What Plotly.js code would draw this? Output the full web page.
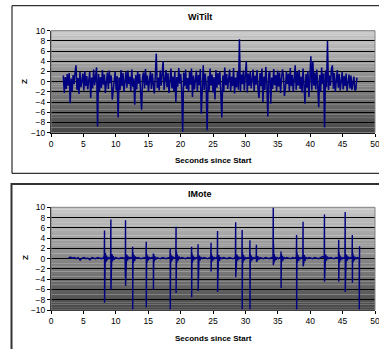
<!DOCTYPE html>
<html><head><meta charset="utf-8">
<script src="https://cdn.plot.ly/plotly-3.0.1.min.js"></script>
<style>html,body{margin:0;padding:0;background:#fff;}#chart{width:379px;height:349px;}</style>
</head><body><div id="chart"></div>
<script>
// WiTilt: Z samples, uniformly sampled
const witiltStart = 1.9;   // seconds
const witiltStep = 0.151;  // seconds per sample
const witiltZ = [
 1.2,-2.2,0.9,-1.4,1.5,-0.8,1.7,-4.2,0.6,-1.9,1.3,-0.5,1.8,3.2,-1.6,0.7,-2.4,1.9,-1.1,0.4,
 1.6,-1.7,2.1,-0.9,1.1,-1.5,0.3,1.9,-3.2,0.8,-1.3,2.4,-0.7,1.2,2.8,-8.8,1.5,-1.8,0.9,-1.2,
 2.3,-0.6,1.4,-2.2,0.7,1.8,-1.4,2.2,-0.3,1.2,-3.5,-1.1,0.5,2.0,-1.7,1.1,-7.0,0.8,-1.6,2.3,
 -0.9,1.7,-2.0,0.4,1.9,-1.2,2.2,-0.5,1.0,-1.8,2.4,-1.0,0.6,-4.5,1.3,-1.5,2.1,-0.4,1.5,-2.1,
 -5.5,0.9,1.8,-1.3,2.5,-0.7,1.2,-1.9,0.3,2.0,-1.4,1.6,-0.6,-2.3,1.1,5.5,-1.2,0.8,-1.7,2.2,
 -0.8,1.4,4.0,-1.6,0.5,2.3,-1.1,1.7,-2.2,0.6,2.6,-1.3,1.0,-1.8,2.1,-4.0,0.9,-1.0,2.7,-0.4,
 1.5,-1.7,-9.8,1.8,-0.9,2.4,-1.4,0.7,-2.0,1.9,-0.6,2.6,-3.0,1.2,-1.5,0.4,2.2,-1.9,1.3,-0.7,
 2.5,-6.3,0.8,3.2,-1.6,1.6,-0.5,-9.5,1.1,-1.8,2.6,-0.8,1.4,-2.1,0.9,-3.5,2.3,-1.2,1.7,-0.6,
 2.0,-1.5,-7.0,1.2,-2.0,2.8,-0.7,1.5,-1.4,0.6,2.4,-1.9,1.0,-0.9,2.7,-2.3,0.8,-1.1,1.9,-1.6,
 8.3,-2.0,1.4,-0.5,2.2,-1.7,0.9,4.0,-2.1,1.6,-0.8,2.0,-1.3,0.5,2.4,-1.8,1.2,-0.6,2.3,-1.5,
 -3.2,1.7,-0.9,2.6,-4.0,1.0,-1.6,2.9,-0.4,-6.8,1.5,2.1,-4.3,0.8,-1.4,2.5,-0.7,1.3,-1.9,2.2,
 -1.0,1.8,-2.2,0.6,2.4,1.1,-2.8,-1.3,2.0,-0.5,1.6,-1.8,2.7,-0.9,1.3,-2.0,0.7,3.2,-1.6,1.9,
 -0.8,2.3,-1.4,1.0,-2.1,2.6,-0.6,-4.3,1.5,-1.2,2.1,-3.0,0.9,5.0,-1.7,4.0,-0.8,1.8,-1.5,2.4,
 -0.7,-5.0,1.3,-1.9,2.8,-0.5,1.6,-9.0,2.2,-1.1,8.0,-1.6,1.2,-0.8,2.5,3.2,-1.4,1.7,-2.0,0.9,
 2.3,-1.2,1.5,-1.7,0.6,1.9,-1.5,1.1,-0.9,1.6,-1.8,0.7,1.4,-1.3,1.2,-1.6,0.5,1.0,-1.7,-1.5,0.8
];

// IMote: time / Z points
const imoteX = [
 2.7,3.0,3.3,3.6,3.9,4.2,4.5,4.8,5.1,5.4,5.7,6.0,6.3,6.6,6.9,7.2,7.5,7.8,8.1,
 8.22,8.26,8.27,8.31,8.35,8.4,8.47,8.55,8.65,8.8,8.95,9.1,
 9.2,9.24,9.25,9.3,9.35,9.42,9.5,9.6,9.75,9.95,10.2,10.5,10.8,11.1,11.4,
 11.44,11.47,11.5,11.51,11.56,11.62,11.7,11.8,11.95,12.1,12.3,12.5,
 12.56,12.6,12.61,12.66,12.72,12.8,12.9,13.05,13.25,13.5,13.8,14.1,14.4,14.6,
 14.66,14.7,14.71,14.76,14.82,14.9,15.0,15.15,15.3,15.5,15.7,
 15.76,15.8,15.81,15.86,15.92,16.0,16.15,16.35,16.6,16.9,17.2,17.5,17.8,18.1,18.3,
 18.36,18.4,18.41,18.46,18.52,18.6,18.7,18.85,19.0,19.2,
 19.26,19.3,19.31,19.36,19.42,19.5,19.6,19.75,19.95,20.2,20.5,20.8,21.1,21.4,21.6,
 21.66,21.7,21.71,21.76,21.82,21.9,22.0,22.15,22.3,22.5,22.6,
 22.66,22.7,22.71,22.76,22.82,22.9,23.0,23.15,23.35,23.6,23.9,24.2,24.5,24.6,
 24.66,24.7,24.71,24.76,24.82,24.9,25.0,25.15,25.3,25.5,25.6,
 25.66,25.7,25.71,25.76,25.82,25.9,26.0,26.15,26.35,26.6,26.9,27.2,27.5,27.8,28.1,28.4,
 28.46,28.5,28.51,28.56,28.62,28.7,28.8,28.95,29.1,29.3,29.4,
 29.46,29.5,29.51,29.56,29.62,29.7,29.8,29.95,30.1,30.3,30.5,30.6,
 30.66,30.7,30.71,30.76,30.82,30.9,31.0,31.15,31.3,31.5,31.6,
 31.66,31.7,31.71,31.76,31.82,31.9,32.05,32.25,32.5,32.8,33.1,33.4,33.7,34.0,34.2,
 34.26,34.3,34.31,34.34,34.38,34.44,34.52,34.62,34.75,34.9,35.1,35.3,35.4,
 35.46,35.5,35.51,35.56,35.62,35.7,35.8,35.95,36.15,36.4,36.7,37.0,37.3,37.6,37.8,
 37.86,37.9,37.91,37.96,38.02,38.1,38.2,38.35,38.5,38.7,38.8,
 38.86,38.9,38.91,38.96,39.02,39.1,39.2,39.35,39.55,39.8,40.1,40.4,40.7,41.0,41.3,41.6,41.9,42.1,
 42.16,42.2,42.21,42.26,42.32,42.4,42.5,42.65,42.85,43.1,43.4,43.7,44.0,44.3,
 44.36,44.4,44.41,44.46,44.52,44.6,44.7,44.85,45.0,45.2,45.3,
 45.36,45.4,45.41,45.46,45.52,45.6,45.7,45.85,46.0,46.2,46.4,
 46.46,46.5,46.51,46.56,46.62,46.7,46.8,46.95,47.1,47.3,47.5,
 47.56,47.58,47.62
];
const imoteZ = [
 0.1,0.3,0.1,0.2,0.0,0.2,-0.3,0.1,0.2,0.0,0.1,-0.2,0.2,0.1,0.0,0.2,0.1,0.0,0.2,
 0.5,5.5,-8.6,2.8,-1.3,1.1,-0.7,0.6,-0.3,0.3,0.0,0.2,
 0.4,7.6,-6.0,1.5,-1.0,0.9,-0.5,0.5,-0.2,0.2,0.1,0.0,0.2,0.1,0.1,
 0.2,-3.5,7.5,-5.3,1.8,-0.9,0.8,-0.4,0.4,0.0,0.2,0.1,
 0.3,2.3,-10,1.2,-0.8,0.7,-0.4,0.3,0.1,0.2,0.0,0.1,0.2,0.1,
 0.3,3.3,-9.5,1.0,-0.8,0.6,-0.3,0.3,0.0,0.2,0.1,
 0.3,1.0,-6.0,0.9,-0.6,0.5,-0.2,0.2,0.1,0.0,0.2,0.1,0.0,0.2,0.1,
 0.2,2.0,-10,1.0,-0.7,0.6,-0.3,0.3,0.1,0.2,
 0.4,6.2,-6.7,1.4,-0.9,0.8,-0.4,0.4,0.0,0.2,0.1,0.0,0.2,0.1,0.2,
 0.3,2.3,-7.5,1.1,-0.8,0.6,-0.3,0.3,0.0,0.2,0.1,
 0.3,2.8,-6.3,1.2,-0.7,0.6,-0.3,0.3,0.0,0.2,0.1,0.0,0.2,0.1,
 0.3,3.1,-2.5,1.0,-0.6,0.5,-0.3,0.3,0.0,0.2,0.1,
 0.3,5.4,-6.5,1.3,-0.8,0.7,-0.4,0.3,0.0,0.2,0.1,0.0,0.2,0.1,0.0,0.2,
 0.4,7.1,-3.6,1.5,-0.9,0.8,-0.4,0.4,0.0,0.2,0.1,
 0.3,5.6,-10,1.2,-0.8,0.7,-0.3,0.3,0.0,0.2,0.1,0.2,
 0.3,3.6,-10,1.0,-0.7,0.6,-0.3,0.3,0.0,0.2,0.1,
 0.2,2.7,-0.6,0.9,-0.4,0.5,-0.2,0.2,0.1,0.0,0.2,0.1,0.0,0.2,0.1,
 0.4,10,-1.3,3.0,-1.0,0.9,-0.5,0.4,-0.2,0.2,0.0,0.2,0.1,
 0.3,1.4,-5.7,0.9,-0.6,0.5,-0.3,0.3,0.0,0.2,0.1,0.0,0.2,0.1,0.2,
 0.4,4.6,-10,1.3,-0.8,0.7,-0.4,0.3,0.0,0.2,0.1,
 0.4,7.2,-1.5,1.4,-0.8,0.7,-0.4,0.3,0.0,0.2,0.1,0.0,0.2,0.1,0.0,0.2,0.4,0.2,
 0.5,8.6,-4.5,2.8,-0.9,0.8,-0.4,0.4,0.0,0.2,0.1,0.0,0.2,0.1,
 0.3,3.7,-4.5,1.2,-0.8,0.6,-0.3,0.3,0.0,0.2,0.1,
 0.4,9.1,-6.5,2.0,-0.9,0.8,-0.4,0.4,0.0,0.2,0.1,
 0.3,4.6,-4.7,1.2,-0.7,0.6,-0.3,0.3,0.0,0.2,0.1,
 0.2,-10,2.4
];

const chartTitles = ['WiTilt', 'IMote'];
const xTitle = 'Seconds since Start';
const yTitle = 'Z';

const W = 379, H = 349;
const witiltX = witiltZ.map((_, i) => +(witiltStart + i * witiltStep).toFixed(3));

const FONT = 'Liberation Sans, Arial, sans-serif';
const lineColor = '#000080';

const traces = [
  {x: witiltX, y: witiltZ, type: 'scatter', mode: 'lines', line: {color: lineColor, width: 1.5}, xaxis: 'x', yaxis: 'y', hoverinfo: 'skip'},
  {x: imoteX, y: imoteZ, type: 'scatter', mode: 'lines', line: {color: lineColor, width: 1.4}, xaxis: 'x2', yaxis: 'y2', hoverinfo: 'skip'}
];

const xDom = [51 / W, 375 / W];
const yDom1 = [1 - 132.7 / H, 1 - 30.7 / H];
const yDom2 = [1 - 310 / H, 1 - 207.3 / H];

function xax(anchor) {
  return {domain: xDom, anchor: anchor, range: [0, 50], dtick: 5, tick0: 0,
    showgrid: false, zeroline: false, showline: true, linecolor: '#000', linewidth: 1,
    ticks: 'outside', ticklen: 3, tickcolor: '#000', tickwidth: 1, ticklabeloverflow: 'allow',
    tickfont: {family: FONT, size: 8.5, color: '#000'}, fixedrange: true};
}
function yax(anchor, dom) {
  return {domain: dom, anchor: anchor, range: [-10, 10], dtick: 2, tick0: 0,
    showgrid: true, gridcolor: '#000', gridwidth: 1, zeroline: false,
    showline: true, linecolor: '#000', linewidth: 1,
    ticks: 'outside', ticklen: 3, tickcolor: '#000', tickwidth: 1,
    tickfont: {family: FONT, size: 8.5, color: '#000'}, fixedrange: true};
}

// gradient background strips
const shapes = [];
const N = 40;
[['x', 'y'], ['x2', 'y2']].forEach(([xa, ya]) => {
  for (let i = 0; i < N; i++) {
    const f = i / (N - 1);
    const c = Math.round(200 - f * 128);
    shapes.push({type: 'rect', xref: xa + ' domain', yref: ya + ' domain',
      x0: 0, x1: 1, y0: 1 - (i + 1) / N, y1: 1 - i / N + 0.001,
      fillcolor: `rgb(${c},${c},${c})`, line: {width: 0}, layer: 'below'});
  }
  shapes.push({type: 'rect', xref: xa + ' domain', yref: ya + ' domain',
    x0: 0, x1: 1, y0: 0, y1: 1, line: {color: '#808080', width: 1}, fillcolor: 'rgba(0,0,0,0)', layer: 'above'});
});
// chart frames
shapes.push({type: 'rect', xref: 'paper', yref: 'paper', x0: 12 / W, x1: 1.05, y0: 1 - 173.3 / H, y1: 1 - 5.7 / H,
  line: {color: '#000', width: 1}, fillcolor: 'rgba(0,0,0,0)', layer: 'below'});
shapes.push({type: 'rect', xref: 'paper', yref: 'paper', x0: 11.5 / W, x1: 1.05, y0: -0.05, y1: 1 - 184 / H,
  line: {color: '#333', width: 2}, fillcolor: 'rgba(0,0,0,0)', layer: 'below'});

const annotations = [
  {text: '<b>' + chartTitles[0] + '</b>', x: 200 / W, y: 1 - 17 / H},
  {text: '<b>' + chartTitles[1] + '</b>', x: 200 / W, y: 1 - 194 / H},
  {text: '<b>' + xTitle + '</b>', x: 213 / W, y: 1 - 160 / H},
  {text: '<b>' + xTitle + '</b>', x: 213 / W, y: 1 - 338 / H},
  {text: '<b>' + yTitle + '</b>', x: 25 / W, y: 1 - 82 / H, textangle: -90},
  {text: '<b>' + yTitle + '</b>', x: 25 / W, y: 1 - 258 / H, textangle: -90}
].map(a => Object.assign({xref: 'paper', yref: 'paper', showarrow: false, xanchor: 'center', yanchor: 'middle',
  font: {family: FONT, size: a.text.includes('Seconds') || a.text.includes('>Z<') ? 8 : 9, color: '#000'}}, a));

const layout = {
  width: W, height: H, margin: {l: 0, r: 0, t: 0, b: 0},
  paper_bgcolor: '#fff', plot_bgcolor: 'rgba(0,0,0,0)',
  showlegend: false,
  xaxis: xax('y'), yaxis: yax('x', yDom1),
  xaxis2: xax('y2'), yaxis2: yax('x2', yDom2),
  shapes: shapes, annotations: annotations
};

Plotly.newPlot('chart', traces, layout, {staticPlot: true, displayModeBar: false});
</script></body></html>
